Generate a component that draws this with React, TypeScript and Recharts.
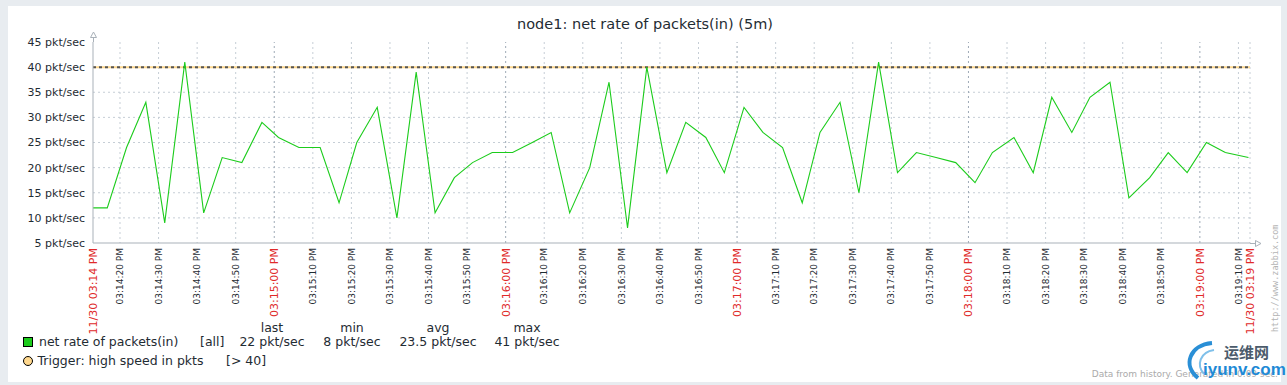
import { CartesianGrid, Line, LineChart, ReferenceLine, XAxis, YAxis } from "recharts";

// seconds after 03:14:13 PM
const seconds = [
  0, 3.7, 8.7, 13.7, 18.6, 23.8, 28.7, 33.5, 38.6, 43.8, 48.1, 53.4, 58.9, 63.8,
  68.4, 73.7, 78.8, 83.8, 88.7, 93.7, 98.4, 103.5, 108.8, 113.9, 118.8, 123.6,
  128.8, 133.8, 138.6, 143.6, 148.8, 153.7, 158.9, 163.7, 168.8, 173.7, 178.8,
  183.9, 188.5, 193.7, 198.6, 203.7, 208.6, 213.5, 218.6, 223.7, 228.7, 233.2,
  238.8, 243.8, 248.6, 253.8, 258.5, 263.7, 268.6, 274.0, 278.8, 283.7, 288.7,
  293.6, 299.6,
];

const packets = [
  12, 12, 24, 33, 9, 41, 11, 22, 21, 29, 26, 24, 24, 13, 25, 32, 10, 39, 11, 18,
  21, 23, 23, 25, 27, 11, 20, 37, 8, 40, 19, 29, 26, 19, 32, 27, 24, 13, 27, 33,
  15, 41, 19, 23, 22, 21, 17, 23, 26, 19, 34, 27, 34, 37, 14, 18, 23, 19, 25, 23,
  22,
];

const xTicks = [
  0, 7, 17, 27, 37, 47, 57, 67, 77, 87, 97, 107, 117, 127, 137, 147, 157, 167,
  177, 187, 197, 207, 217, 227, 237, 247, 257, 267, 277, 287, 297, 300,
];

const xTickLabels = [
  "11/30 03:14 PM", "03:14:20 PM", "03:14:30 PM", "03:14:40 PM", "03:14:50 PM",
  "03:15:00 PM", "03:15:10 PM", "03:15:20 PM", "03:15:30 PM", "03:15:40 PM",
  "03:15:50 PM", "03:16:00 PM", "03:16:10 PM", "03:16:20 PM", "03:16:30 PM",
  "03:16:40 PM", "03:16:50 PM", "03:17:00 PM", "03:17:10 PM", "03:17:20 PM",
  "03:17:30 PM", "03:17:40 PM", "03:17:50 PM", "03:18:00 PM", "03:18:10 PM",
  "03:18:20 PM", "03:18:30 PM", "03:18:40 PM", "03:18:50 PM", "03:19:00 PM",
  "03:19:10 PM", "11/30 03:19 PM",
];

const minuteTicks = [47, 107, 167, 227, 287];
const redTicks = [0, ...minuteTicks, 300];

const yTicks = [5, 10, 15, 20, 25, 30, 35, 40, 45];
const triggerValue = 40;

const statHeaders = ["last", "min", "avg", "max"];
const statValues = ["22 pkt/sec", "8 pkt/sec", "23.5 pkt/sec", "41 pkt/sec"];

const rows = seconds.map((t, i) => ({ t, v: packets[i] }));

const FONT = '"DejaVu Sans", sans-serif';
const TEXT = "#1f2c33";
const RED = "#e02a2a";
const GREEN = "#1ccc1c";
const TRIGGER = "#ffd88e";

const XTick = (props: any) => {
  const { x, y, payload } = props;
  const label = xTickLabels[xTicks.indexOf(payload.value)];
  const red = redTicks.includes(payload.value);
  return (
    <g transform={`translate(${x},${y + 5})`}>
      <text
        transform="rotate(-90)"
        textAnchor="end"
        dy="0.35em"
        fontSize={red ? 11 : 9}
        fill={red ? RED : TEXT}
        fontFamily={FONT}
      >
        {label}
      </text>
    </g>
  );
};

const statX = [272, 352, 438, 527];

const App = () => {
  return (
    <div
      style={{
        position: "absolute",
        left: 0,
        top: 0,
        width: 1287,
        height: 385,
        background: "#e8ecf0",
        fontFamily: FONT,
      }}
    >
      <div
        style={{ position: "absolute", left: 8, top: 6, width: 1273, height: 376, background: "#fff" }}
      />
      <div style={{ position: "absolute", left: 0, top: 0 }}>
        <LineChart
          width={1287}
          height={385}
          data={rows}
          margin={{ top: 42, right: 37, bottom: 112, left: 0 }}
        >
          <CartesianGrid
            stroke="#c6ced6"
            strokeDasharray="2 3"
            horizontalValues={[10, 15, 20, 25, 30, 35, 40]}
            verticalValues={xTicks.filter((t) => t !== 0 && !minuteTicks.includes(t))}
          />
          <XAxis
            type="number"
            dataKey="t"
            domain={[0, 300]}
            ticks={xTicks}
            interval={0}
            height={30}
            tickSize={0}
            tickMargin={0}
            tickLine={false}
            axisLine={{ stroke: "#a9b1b9" }}
            tick={(p: any) => <XTick {...p} />}
          />
          <YAxis
            type="number"
            domain={[5, 45]}
            ticks={yTicks}
            interval={0}
            width={93}
            tickSize={0}
            tickMargin={8}
            tickLine={false}
            axisLine={{ stroke: "#a9b1b9" }}
            tickFormatter={(v: number) => `${v} pkt/sec`}
            tick={{ fill: TEXT, fontSize: 11, fontFamily: FONT }}
          />
          {minuteTicks.map((m) => (
            <ReferenceLine key={m} x={m} stroke="#9eaab6" strokeDasharray="2 3" />
          ))}
          <ReferenceLine y={triggerValue} stroke={TRIGGER} strokeWidth={2} />
          <ReferenceLine y={triggerValue} stroke="#555" strokeWidth={2} strokeDasharray="3 3" />
          <Line
            type="linear"
            dataKey="v"
            stroke={GREEN}
            strokeWidth={1.1}
            dot={false}
            isAnimationActive={false}
          />
        </LineChart>
      </div>
      <svg
        width={1287}
        height={385}
        style={{ position: "absolute", left: 0, top: 0, pointerEvents: "none" }}
        fontFamily={FONT}
      >
        <text x={645} y={29} textAnchor="middle" fontSize={14.5} fill={TEXT}>
          node1: net rate of packets(in) (5m)
        </text>
        {/* axis arrows */}
        <line x1={93.5} y1={37} x2={93.5} y2={42} stroke="#a9b1b9" />
        <path d="M93.5 32 L96.5 37.5 L90.5 37.5 Z" fill="#fff" stroke="#a9b1b9" />
        <line x1={1250} y1={243.5} x2={1256} y2={243.5} stroke="#a9b1b9" />
        <path d="M1261 243.5 L1255.5 240.5 L1255.5 246.5 Z" fill="#fff" stroke="#a9b1b9" />

        {/* legend */}
        {statHeaders.map((h, i) => (
          <text key={h} x={statX[i]} y={332} textAnchor="middle" fontSize={12.5} fill={TEXT}>
            {h}
          </text>
        ))}
        <rect x={23.5} y={337.5} width={9} height={9} fill={GREEN} stroke="#000" />
        <text x={39} y={346} fontSize={12.5} fill={TEXT}>
          net rate of packets(in)
        </text>
        <text x={200} y={346} fontSize={12.5} fill={TEXT}>
          [all]
        </text>
        {statValues.map((s, i) => (
          <text key={s} x={statX[i]} y={346} textAnchor="middle" fontSize={12.5} fill={TEXT}>
            {s}
          </text>
        ))}
        <circle cx={28} cy={361} r={4.5} fill={TRIGGER} stroke="#000" />
        <text x={37.5} y={365} fontSize={12.5} fill={TEXT}>
          Trigger: high speed in pkts
        </text>
        <text x={226} y={365} fontSize={12.5} fill={TEXT}>
          [&gt; 40]
        </text>

        <text
          transform="translate(1278,332) rotate(-90)"
          fontSize={8.5}
          fill="#b4b4b4"
          fontFamily='"DejaVu Sans Mono", monospace'
        >
          http://www.zabbix.com
        </text>
        <text x={1278} y={377} textAnchor="end" fontSize={9} fill="#aaa">
          Data from history. Generated in 0.09 sec.
        </text>

        {/* site watermark */}
        <path d="M1212 343 C1190 345 1182 365 1198 378" fill="none" stroke="#2a8fd6" strokeWidth={4} />
        <path d="M1214 350 C1200 352 1196 365 1204 374" fill="none" stroke="#7fc0ea" strokeWidth={2} />
        <text x={1224} y={358} fontSize={15} fill="#4b5b6b" fontWeight="bold" fontFamily='"Noto Sans CJK SC", sans-serif'>
          运维网
        </text>
        <text x={1203} y={375} fontSize={17} fill="#1e8ad6" fontWeight="bold" fontFamily="Arial, sans-serif">
          iyunv.com
        </text>
      </svg>
    </div>
  );
};

export default App;
